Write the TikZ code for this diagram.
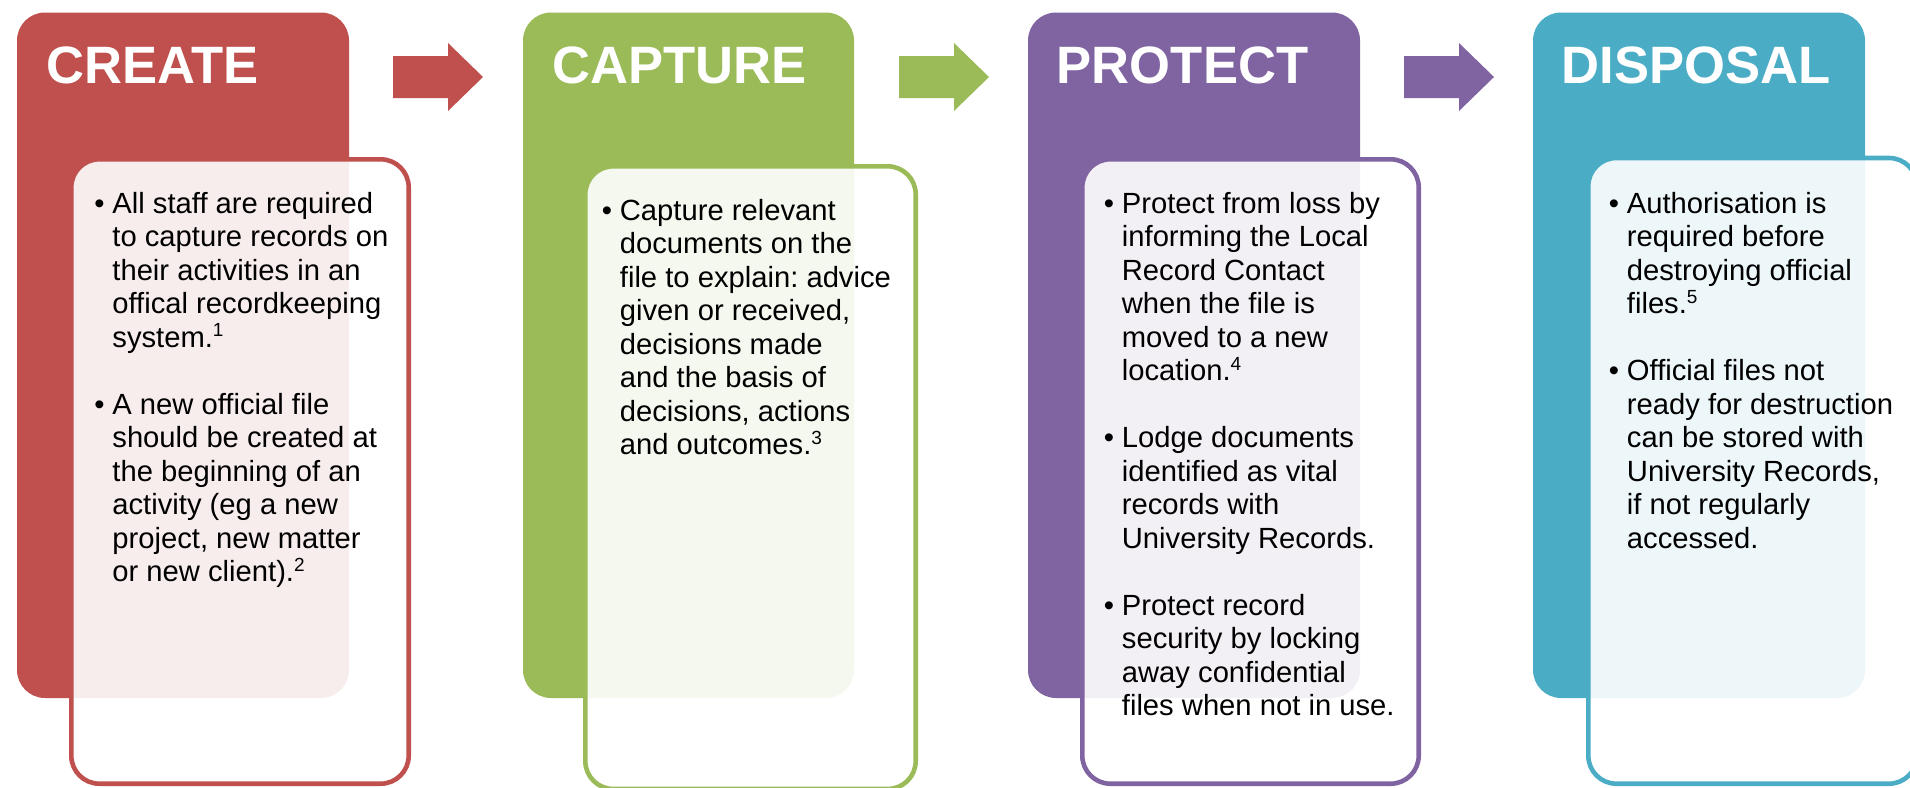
\documentclass[tikz,border=0pt]{standalone}
\usepackage{fontspec}
\setmainfont{Liberation Sans}
\definecolor{crimson}{HTML}{C0504D}
\definecolor{olive}{HTML}{9BBB59}
\definecolor{violet}{HTML}{8064A2}
\definecolor{teal}{HTML}{4BACC6}
\newcommand{\titlefont}{\fontsize{26.3}{30}\selectfont\bfseries}
\newcommand{\bodyfont}{\fontsize{14.6}{16.75}\selectfont\frenchspacing}
\newcommand{\bul}{\makebox[9pt][l]{\textbullet}}
\newcommand{\fnmark}[1]{\textsuperscript{\fontsize{9.5}{10}\selectfont #1}}
\tikzset{
  block/.style={fill=#1, rounded corners=14pt},
  panel/.style={draw=#1, line width=2.3pt, fill=white, fill opacity=0.9,
    rounded corners=14pt},
  heading/.style={text=white, font=\titlefont, anchor=base west, inner sep=0pt},
  body/.style={anchor=base west, inner sep=0pt, font=\bodyfont, text=black},
  flow/.style={fill=#1}
}
\begin{document}
% one px = 0.5pt, y grows downwards
\begin{tikzpicture}[x=0.5pt, y=-0.5pt]
\useasboundingbox (0,0) rectangle (1910,787);

% ---------- CREATE ----------
\fill[block=crimson] (17,12.5) rectangle (349,698);
\draw[panel=crimson] (71.3,159.3) rectangle (408.7,783.7);
\node[heading] (tcreate) at (46,83) {CREATE};
\node[body] (bcreate) at (94,213) {\begin{tabular}[t]{@{}l@{}l@{}}
\bul & All staff are required\\
 & to capture records on\\
 & their activities in an\\
 & offical recordkeeping\\
 & system.\fnmark{1}\\[16.75pt]
\bul & A new official file\\
 & should be created at\\
 & the beginning of an\\
 & activity (eg a new\\
 & project, new matter\\
 & or new client).\fnmark{2}
\end{tabular}};
\fill[flow=crimson] (393,56) -- (448,56) -- (448,43) -- (483,77)
  -- (448,111) -- (448,98) -- (393,98) -- cycle;

% ---------- CAPTURE ----------
\fill[block=olive] (523,12.5) rectangle (854,698);
\draw[panel=olive] (585.3,166.3) rectangle (915.7,789);
\node[heading] (tcapture) at (552,83) {CAPTURE};
\node[body] (bcapture) at (601.5,220) {\begin{tabular}[t]{@{}l@{}l@{}}
\bul & Capture relevant\\
 & documents on the\\
 & file to explain: advice\\
 & given or received,\\
 & decisions made\\
 & and the basis of\\
 & decisions, actions\\
 & and outcomes.\fnmark{3}
\end{tabular}};
\fill[flow=olive] (899,56) -- (954,56) -- (954,43) -- (989,77)
  -- (954,111) -- (954,98) -- (899,98) -- cycle;

% ---------- PROTECT ----------
\fill[block=violet] (1028,12.5) rectangle (1360,698);
\draw[panel=violet] (1082.3,159.3) rectangle (1418.7,783.7);
\node[heading] (tprotect) at (1056.5,83) {PROTECT};
\node[body] (bprotect) at (1103.5,213) {\begin{tabular}[t]{@{}l@{}l@{}}
\bul & Protect from loss by\\
 & informing the Local\\
 & Record Contact\\
 & when the file is\\
 & moved to a new\\
 & location.\fnmark{4}\\[16.75pt]
\bul & Lodge documents\\
 & identified as vital\\
 & records with\\
 & University Records.\\[16.75pt]
\bul & Protect record\\
 & security by locking\\
 & away confidential\\
 & files when not in use.
\end{tabular}};
\fill[flow=violet] (1404,56) -- (1459,56) -- (1459,43) -- (1494,77)
  -- (1459,111) -- (1459,98) -- (1404,98) -- cycle;

% ---------- DISPOSAL ----------
\fill[block=teal] (1533,12.5) rectangle (1865,698);
\draw[panel=teal] (1588.3,158) rectangle (1917,783.7);
\node[heading] (tdisposal) at (1561.5,83) {DISPOSAL};
\node[body] (bdisposal) at (1608.5,213) {\begin{tabular}[t]{@{}l@{}l@{}}
\bul & Authorisation is\\
 & required before\\
 & destroying official\\
 & files.\fnmark{5}\\[16.75pt]
\bul & Official files not\\
 & ready for destruction\\
 & can be stored with\\
 & University Records,\\
 & if not regularly\\
 & accessed.
\end{tabular}};
\end{tikzpicture}
\end{document}
